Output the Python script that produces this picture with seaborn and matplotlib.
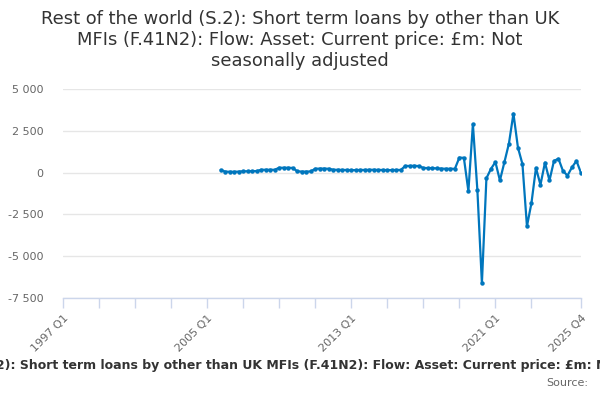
import numpy as np
import pandas as pd
import seaborn as sns
import matplotlib.pyplot as plt
from matplotlib.ticker import FuncFormatter

# quarterly categories on the axis: 1997 Q1 .. 2025 Q4
years = list(range(1997, 2026))
quarters = [f"{y} Q{q}" for y in years for q in range(1, 5)]

# series starts 2005 Q4 (index 35), values in £m
first_index = 35
values = [
    160, 60, 50, 50, 60, 80, 80, 90, 90, 170,
    170, 170, 170, 290, 290, 290, 280, 80, 60, 60,
    70, 230, 240, 240, 230, 170, 170, 160, 160, 150,
    150, 160, 160, 170, 170, 160, 160, 150, 150, 160,
    160, 400, 400, 410, 390, 280, 270, 270, 250, 240,
    230, 230, 230, 900, 880, -1110, 2900, -1070, -6620, -340,
    220, 630, -470, 630, 1740, 3530, 1500, 510, -3210, -1820,
    280, -730, 600, -470, 700, 830, 100, -180, 320, 700,
    -20,
]

yticks = [-7500, -5000, -2500, 0, 2500, 5000]
label_quarters = ["1997 Q1", "2005 Q1", "2013 Q1", "2021 Q1", "2025 Q4"]

title = ("Rest of the world (S.2): Short term loans by other than UK\n"
         "MFIs (F.41N2): Flow: Asset: Current price: £m: Not\n"
         "seasonally adjusted")
series_name = ("Rest of the world (S.2): Short term loans by other than UK MFIs "
               "(F.41N2): Flow: Asset: Current price: £m: Not seasonally adjusted")

df = pd.DataFrame({
    "pos": np.arange(first_index, first_index + len(values)),
    "value": values,
})

sns.set_style("white")
plt.rcParams["font.family"] = ["DejaVu Sans"]

fig = plt.figure(figsize=(6, 4), dpi=100)
ax = fig.add_axes([63 / 600, 1 - 298 / 400, (581 - 63) / 600, (298 - 89) / 400])

sns.lineplot(data=df, x="pos", y="value", ax=ax, color="#0076bd",
             linewidth=1.6, marker="o", markersize=3.2,
             markeredgewidth=0, legend=False)

ax.set_xlim(0, len(quarters) - 1)
ax.set_ylim(yticks[0], yticks[-1])

# y axis
ax.set_yticks(yticks)
ax.yaxis.set_major_formatter(FuncFormatter(lambda v, p: f"{int(v):,}".replace(",", " ")))
ax.yaxis.grid(True, color="#e6e6e6", linewidth=1)
ax.tick_params(axis="y", left=False, length=0, pad=14, labelsize=8, labelcolor="#666666")

# x axis: ticks every 2 years plus the last quarter, labels on a few
tick_pos = list(range(0, len(quarters) - 4, 8)) + [len(quarters) - 1]
ax.set_xticks(tick_pos)
ax.set_xticklabels([quarters[p] if quarters[p] in label_quarters else "" for p in tick_pos],
                   rotation=45, ha="right", rotation_mode="anchor")
ax.tick_params(axis="x", bottom=True, length=7, width=1, color="#ccd6eb", direction="out",
               labelsize=8, labelcolor="#666666", pad=4)

for side in ["top", "right", "left"]:
    ax.spines[side].set_visible(False)
ax.spines["bottom"].set_color("#ccd6eb")
ax.spines["bottom"].set_linewidth(1)

ax.set_xlabel("")
ax.set_ylabel("")

fig.text(0.5, 1 - 40 / 400, title, ha="center", va="center", fontsize=12.9,
         color="#333333", linespacing=1.2)
# long series name, centred a little right of the middle and cut at both edges
fig.text(0.5 + 8 / 600, 1 - 365 / 400, series_name, ha="center", va="center", fontsize=9,
         fontweight="bold", color="#333333")
fig.text(588 / 600, 1 - 383 / 400, "Source:", ha="right", va="center", fontsize=8,
         color="#666666")

fig.savefig("out.png", dpi=100)
